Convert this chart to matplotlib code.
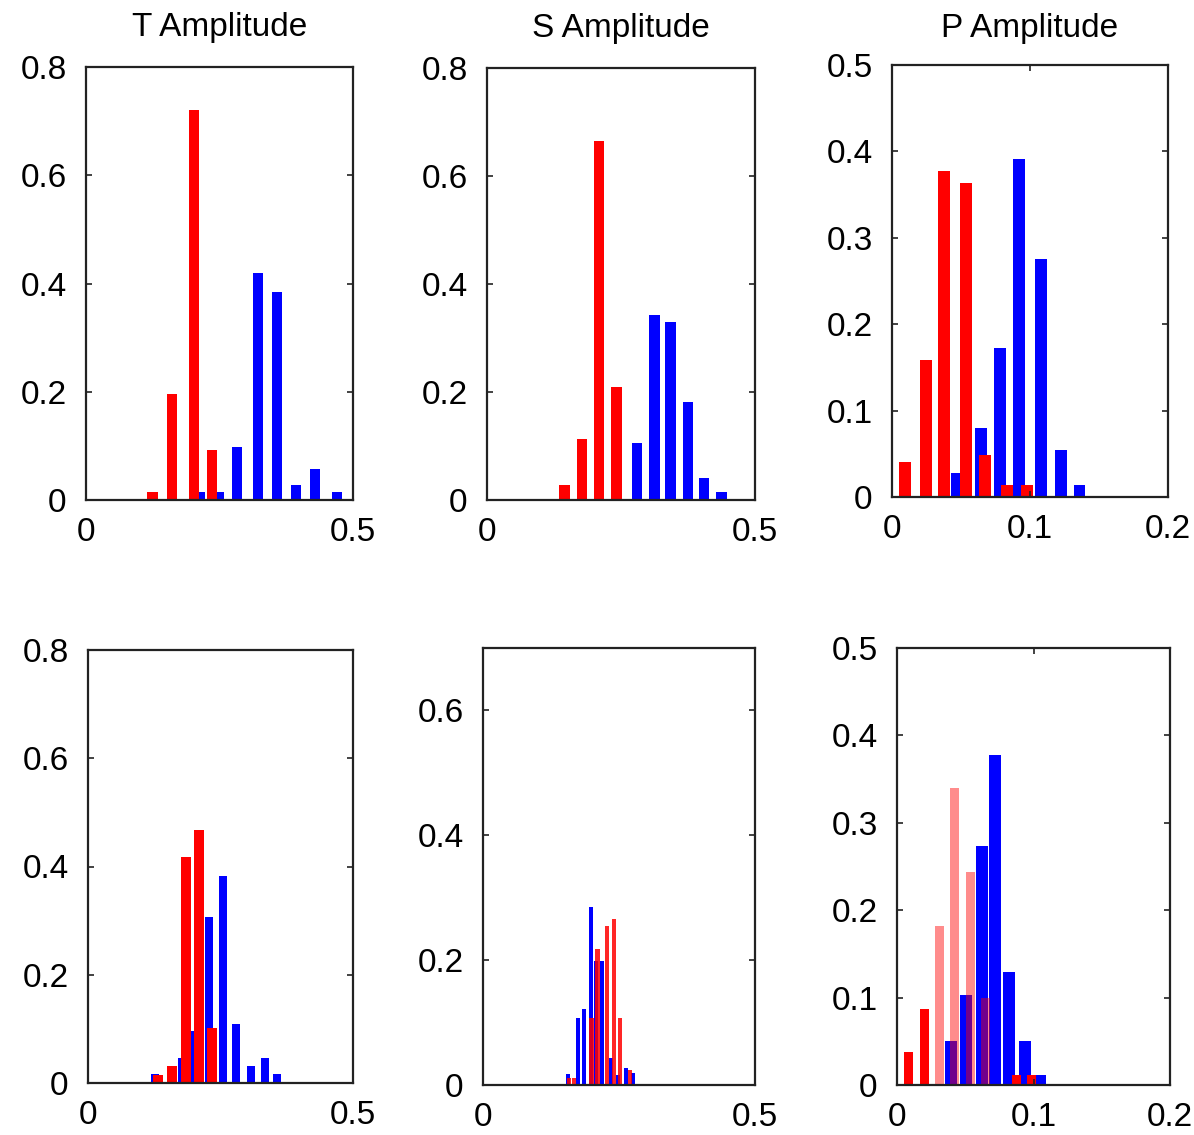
"""Normalised amplitude histograms (T, S, P), two rows."""

import matplotlib

matplotlib.use("Agg")
import matplotlib.pyplot as plt

plt.rcParams["font.family"] = ["Liberation Sans", "DejaVu Sans"]

W, H = 1194, 1135
FS = 24

# --- data (bin centres, relative frequency) ---------------------------------
titles = ["T Amplitude", "S Amplitude", "P Amplitude"]

# row 1, T
t1_red_x = [0.124, 0.161, 0.202, 0.236]
t1_red_h = [0.015, 0.196, 0.720, 0.092]
t1_blue_x = [0.214, 0.249, 0.283, 0.322, 0.358, 0.393, 0.429, 0.470]
t1_blue_h = [0.015, 0.015, 0.098, 0.420, 0.385, 0.028, 0.057, 0.015]

# row 1, S
s1_red_x = [0.144, 0.177, 0.209, 0.241]
s1_red_h = [0.028, 0.113, 0.664, 0.210]
s1_blue_x = [0.280, 0.312, 0.343, 0.375, 0.405, 0.438]
s1_blue_h = [0.105, 0.342, 0.329, 0.181, 0.041, 0.015]

# row 1, P
p1_red_x = [0.0094, 0.0246, 0.0377, 0.0536, 0.0674, 0.0833, 0.0978]
p1_red_h = [0.040, 0.158, 0.377, 0.364, 0.049, 0.014, 0.014]
p1_blue_x = [0.0471, 0.0645, 0.0783, 0.0920, 0.1080, 0.1225, 0.1360]
p1_blue_h = [0.028, 0.080, 0.172, 0.391, 0.276, 0.054, 0.014]

# row 2, T
t2_red_x = [0.132, 0.158, 0.185, 0.209, 0.234]
t2_red_h = [0.015, 0.031, 0.418, 0.468, 0.102]
t2_blue_x = [0.126, 0.177, 0.202, 0.228, 0.255, 0.279, 0.308, 0.334, 0.357]
t2_blue_h = [0.017, 0.046, 0.096, 0.307, 0.383, 0.109, 0.031, 0.046, 0.017]

# row 2, S
s2_red_x = [0.158, 0.167, 0.199, 0.211, 0.228, 0.241, 0.252, 0.270]
s2_red_h = [0.011, 0.011, 0.107, 0.218, 0.255, 0.266, 0.108, 0.024]
s2_blue_x = [0.156, 0.175, 0.186, 0.199, 0.208, 0.219, 0.235, 0.248, 0.263, 0.276]
s2_blue_h = [0.018, 0.108, 0.122, 0.285, 0.199, 0.199, 0.043, 0.016, 0.028, 0.019]

# row 2, P (middle red bars are drawn faded)
p2_red_x = [0.0084, 0.0205, 0.0311, 0.0421, 0.0538, 0.0648, 0.0872, 0.0982]
p2_red_h = [0.038, 0.087, 0.182, 0.340, 0.244, 0.100, 0.011, 0.011]
p2_red_faded = [False, False, True, True, True, True, False, False]
p2_blue_x = [0.0396, 0.0505, 0.0623, 0.0718, 0.0821, 0.0938, 0.1048]
p2_blue_h = [0.050, 0.103, 0.273, 0.378, 0.129, 0.050, 0.011]


def _axes(fig, left, top, right, bottom):
    return fig.add_axes([left / W, 1 - bottom / H, (right - left) / W, (bottom - top) / H])


def _style(ax, xlim, xticks, xlabels, ylim, yticks, ylabels):
    ax.set_xlim(*xlim)
    ax.set_ylim(*ylim)
    ax.set_xticks(xticks)
    ax.set_xticklabels(xlabels)
    ax.set_yticks(yticks)
    ax.set_yticklabels(ylabels)
    ax.tick_params(direction="in", length=4, width=1.2, top=True, right=True,
                   labelsize=FS, color="#222222")
    ax.tick_params(axis="y", pad=14)
    ax.tick_params(axis="x", pad=12)
    for sp in ax.spines.values():
        sp.set_linewidth(1.6)
        sp.set_color("#222222")


fig = plt.figure(figsize=(W / 100, H / 100), dpi=100)

x_half = dict(xlim=(0, 0.5), xticks=[0, 0.5], xlabels=["0", "0.5"])
x_p = dict(xlim=(0, 0.2), xticks=[0, 0.1, 0.2], xlabels=["0", "0.1", "0.2"])
y_08 = dict(ylim=(0, 0.8), yticks=[0, 0.2, 0.4, 0.6, 0.8],
            ylabels=["0", "0.2", "0.4", "0.6", "0.8"])
y_05 = dict(ylim=(0, 0.5), yticks=[0, 0.1, 0.2, 0.3, 0.4, 0.5],
            ylabels=["0", "0.1", "0.2", "0.3", "0.4", "0.5"])
y_07 = dict(ylim=(0, 0.7), yticks=[0, 0.2, 0.4, 0.6],
            ylabels=["0", "0.2", "0.4", "0.6"])

# top row
ax = _axes(fig, 86, 67, 353, 500)
ax.bar(t1_blue_x, t1_blue_h, width=0.019, color="blue")
ax.bar(t1_red_x, t1_red_h, width=0.020, color="red")
_style(ax, **x_half, **y_08)
ax.set_title(titles[0], fontsize=FS, pad=22)

ax = _axes(fig, 487, 68, 755, 500)
ax.bar(s1_blue_x, s1_blue_h, width=0.020, color="blue")
ax.bar(s1_red_x, s1_red_h, width=0.020, color="red")
_style(ax, **x_half, **y_08)
ax.set_title(titles[1], fontsize=FS, pad=22)

ax = _axes(fig, 892, 65, 1168, 497)
ax.bar(p1_blue_x, p1_blue_h, width=0.0082, color="blue")
ax.bar(p1_red_x, p1_red_h, width=0.0082, color="red")
_style(ax, **x_p, **y_05)
ax.set_title(titles[2], fontsize=FS, pad=20)

# bottom row
ax = _axes(fig, 88, 650, 353, 1083)
ax.bar(t2_blue_x, t2_blue_h, width=0.015, color="blue")
ax.bar(t2_red_x, t2_red_h, width=0.018, color="red")
_style(ax, **x_half, **y_08)

ax = _axes(fig, 483, 648, 755, 1085)
ax.bar(s2_blue_x, s2_blue_h, width=0.0078, color="blue")
ax.bar(s2_red_x, s2_red_h, width=0.0085, color="red", alpha=0.85)
_style(ax, **x_half, **y_07)

ax = _axes(fig, 897, 648, 1170, 1085)
ax.bar(p2_blue_x, p2_blue_h, width=0.0085, color="blue")
for x, h, faded in zip(p2_red_x, p2_red_h, p2_red_faded):
    ax.bar(x, h, width=0.0066, color="red", alpha=0.45 if faded else 1.0)
_style(ax, **x_p, **y_05)

fig.savefig("out.png", dpi=100)
